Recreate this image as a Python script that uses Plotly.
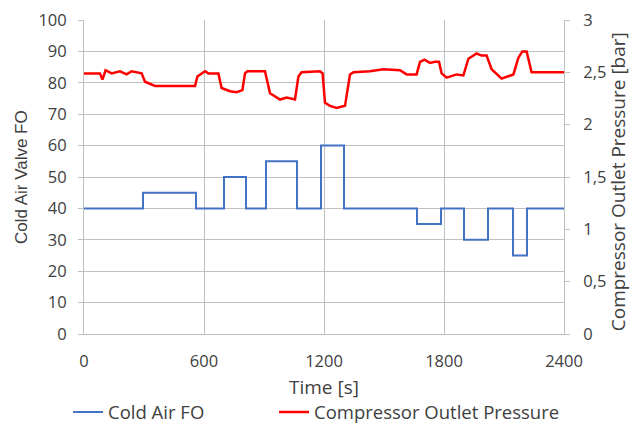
import plotly.graph_objects as go

# Cold Air Valve FO (step signal)
fo_time = [0, 295, 560, 700, 810, 910, 1065, 1185, 1300, 1665, 1785, 1900, 2020, 2145, 2215, 2400]
fo_value = [40, 45, 40, 50, 40, 55, 40, 60, 40, 35, 40, 30, 40, 25, 40, 40]

# Compressor Outlet Pressure [bar]
p_time = [0, 80, 92, 108, 138, 180, 213, 238, 288, 305, 355, 555, 567, 605, 622, 672, 688,
          730, 763, 792, 805, 817, 905, 930, 980, 1013, 1055, 1072, 1088, 1180, 1193, 1205,
          1230, 1263, 1305, 1330, 1347, 1430, 1497, 1580, 1613, 1663, 1680, 1702, 1730, 1755,
          1775, 1788, 1813, 1863, 1897, 1922, 1963, 1988, 2013, 2038, 2088, 2147, 2172, 2192,
          2213, 2238, 2400]
p_value = [2.49, 2.49, 2.43, 2.52, 2.49, 2.51, 2.48, 2.51, 2.49, 2.41, 2.37, 2.37, 2.46, 2.51,
           2.49, 2.49, 2.35, 2.32, 2.31, 2.33, 2.49, 2.51, 2.51, 2.30, 2.24, 2.26, 2.24, 2.46,
           2.50, 2.51, 2.49, 2.21, 2.18, 2.16, 2.18, 2.48, 2.50, 2.51, 2.53, 2.52, 2.48, 2.48,
           2.60, 2.62, 2.59, 2.60, 2.60, 2.49, 2.45, 2.48, 2.47, 2.63, 2.68, 2.66, 2.66, 2.53,
           2.44, 2.48, 2.64, 2.70, 2.70, 2.50, 2.50]

x_ticks = [0, 600, 1200, 1800, 2400]
y2_ticks = [0, 0.5, 1, 1.5, 2, 2.5, 3]
y2_ticktext = ["0", "0,5", "1", "1,5", "2", "2,5", "3"]

x_title = "Time [s]"
y_title = "Cold Air Valve FO"
y2_title = "Compressor Outlet Pressure [bar]"

font_family = "Open Sans, sans-serif"
text_color = "#404040"
grid_color = "#c0c0c0"

fig = go.Figure()
fig.add_trace(go.Scatter(x=fo_time, y=fo_value, mode="lines", line_shape="hv",
                         name="Cold Air FO", line=dict(color="#4472C4", width=2), yaxis="y",
                         legend="legend"))
fig.add_trace(go.Scatter(x=p_time, y=p_value, mode="lines",
                         name="Compressor Outlet Pressure", line=dict(color="#FF0000", width=2.5),
                         yaxis="y2", legend="legend2"))

legend_common = dict(orientation="h", xanchor="left", yref="container", xref="container",
                     y=0.025, yanchor="middle", font=dict(size=18.5, color=text_color),
                     itemwidth=30, bgcolor="rgba(0,0,0,0)")

fig.update_layout(
    width=630, height=423,
    margin=dict(l=84, r=66, t=20, b=89, autoexpand=False),
    paper_bgcolor="white", plot_bgcolor="white",
    font=dict(family=font_family, size=16.5, color=text_color),
    showlegend=True,
    legend=dict(x=0.108, **legend_common),
    legend2=dict(x=0.435, **legend_common),
    xaxis=dict(range=[0, 2400], tickvals=x_ticks, showgrid=True, gridcolor=grid_color,
               gridwidth=1, showline=True, linecolor=grid_color, zeroline=False,
               ticks="", ticklabelstandoff=12),
    yaxis=dict(range=[0, 100], dtick=10, showgrid=True, gridcolor=grid_color, gridwidth=1,
               showline=True, linecolor=grid_color, zeroline=False, ticks="outside",
               ticklen=5, tickcolor=grid_color, ticklabelstandoff=8),
    yaxis2=dict(range=[0, 3], overlaying="y", side="right", tickvals=y2_ticks,
                ticktext=y2_ticktext, showgrid=False, showline=True, linecolor=grid_color,
                zeroline=False, ticks="outside", ticklen=5, tickcolor=grid_color,
                ticklabelstandoff=10),
    annotations=[
        dict(text=x_title, xref="paper", yref="paper", x=0.5, y=-0.170, xanchor="center",
             yanchor="middle", showarrow=False, font=dict(size=19, color=text_color)),
        dict(text=y_title, xref="paper", yref="paper", x=-0.131, y=0.5, xanchor="center",
             yanchor="middle", showarrow=False, textangle=-90,
             font=dict(size=17, family="Liberation Sans, Arial, sans-serif", color=text_color)),
        dict(text=y2_title, xref="paper", yref="paper", x=1.113, y=0.484, xanchor="center",
             yanchor="middle", showarrow=False, textangle=-90,
             font=dict(size=19, color=text_color)),
    ],
)

fig.write_html("out.html")
